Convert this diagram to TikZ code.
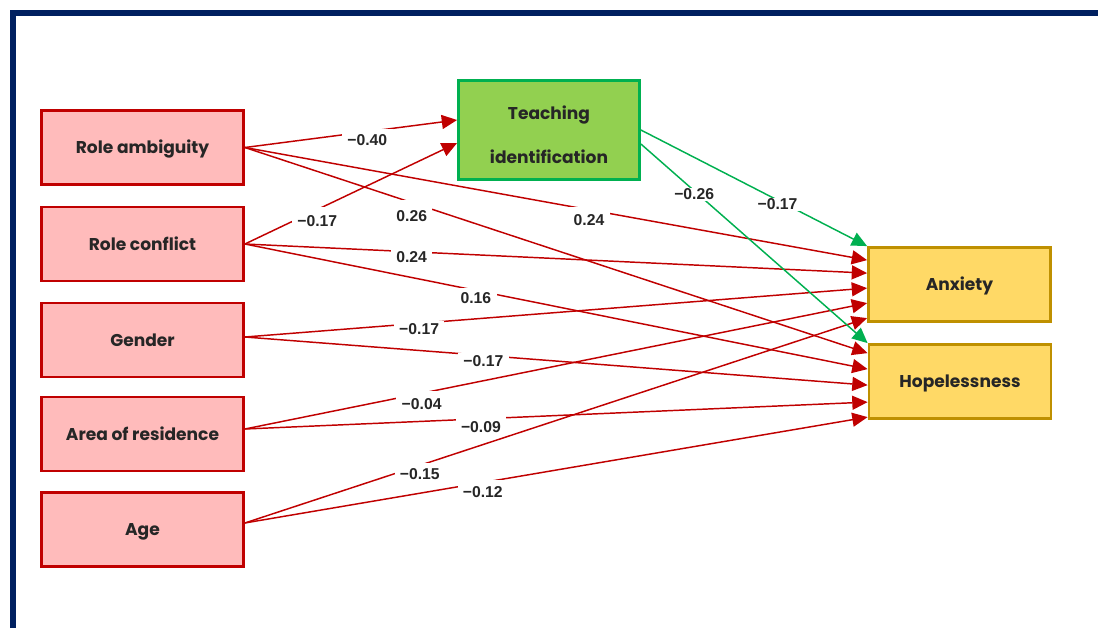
\documentclass[tikz,border=0pt]{standalone}
\usepackage{fontspec}
\setmainfont{Poppins}
\newfontfamily\labfont{Liberation Sans}
\usetikzlibrary{arrows.meta,calc}
\definecolor{navy}{HTML}{002060}
\definecolor{redb}{HTML}{C00000}
\definecolor{redf}{HTML}{FFBBBB}
\definecolor{grnb}{HTML}{00B050}
\definecolor{grnf}{HTML}{92D050}
\definecolor{yelb}{HTML}{BF9000}
\definecolor{yelf}{HTML}{FFD966}
\definecolor{txt}{HTML}{262626}
\tikzset{
  box/.style={draw, rectangle, line width=2.1pt, text=txt, align=center,
    font=\bfseries\fontsize{12.8}{15}\selectfont},
  onel/.style={text height=9pt, text depth=0pt},
  srcbox/.style={box, onel, draw=redb, fill=redf, minimum width=151.5pt, minimum height=55.5pt},
  midbox/.style={box, draw=grnb, fill=grnf, minimum width=135.75pt, minimum height=74.25pt},
  outbox/.style={box, onel, draw=yelb, fill=yelf, minimum width=136.5pt, minimum height=55.5pt},
  labbase/.style={fill=white, anchor=base, inner ysep=0.5pt, inner xsep=4pt, text depth=0.5pt,
    text=txt, font=\labfont\bfseries\fontsize{11.8}{13}\selectfont},
  lab/.code={\pgfmathsetmacro\labys{-(#1+5.7)*0.75}\pgfmathsetmacro\labth{(#1+7.6)*0.75}%
    \tikzset{labbase, yshift=\labys pt, text height=\labth pt}},
  redarr/.style={draw=redb, line width=1.1pt, -{Triangle[length=11.5pt, width=10.5pt]}, redb},
  grnarr/.style={draw=grnb, line width=1.1pt, -{Triangle[length=11.5pt, width=10.5pt]}, grnb},
}
\begin{document}
\begin{tikzpicture}[x=0.75pt, y=-0.75pt]
\useasboundingbox (0,0) rectangle (1098,628);
\draw[navy, line width=4.5pt, line join=miter] (12.5,628) -- (12.5,12.5) -- (1098,12.5);

\node[srcbox] (ra) at (142.5,147.5) {Role ambiguity};
\node[srcbox] (rc) at (142.5,244) {Role conflict};
\node[srcbox] (gen) at (142.5,340) {Gender};
\node[srcbox] (area) at (142.5,434) {Area of residence};
\node[srcbox] (age) at (142.5,529.5) {Age};
\node[midbox] (ti) at (549,130) {\raisebox{8.25pt}[0pt][0pt]{\begin{tabular}[t]{@{}c@{}}Teaching\\[18pt]identification\end{tabular}}};
\node[outbox] (anx) at (959.5,284.5) {Anxiety};
\node[outbox] (hop) at (960,381.5) {Hopelessness};

% to teaching identification
\draw[redarr] (ra.east) -- node[lab=7.7, pos=.577] {−0.40} ([yshift=7.5pt]ti.west);
\draw[redarr] (rc.east) -- node[lab=11, pos=.341] {−0.17} ([yshift=-9.75pt]ti.west);

% to anxiety
\draw[redarr] (ra.east) -- node[lab=10, pos=.553] {0.24} ([yshift=-10.5pt]anx.north west);
\draw[redarr] (rc.east) -- node[lab=5, pos=.268] {0.24} ([yshift=-20.25pt]anx.north west);
\draw[redarr] ([yshift=2.25pt]gen.east) -- node[lab=5, pos=.280] {−0.17} ([yshift=-31.5pt]anx.north west);
\draw[redarr] ([yshift=3.75pt]area.east) -- node[lab=11, pos=.284] {−0.04} ([yshift=-42.75pt]anx.north west);
\draw[redarr] ([yshift=4.9pt]age.east) -- node[lab=8.5, pos=.281] {−0.15} ([yshift=-54pt]anx.north west);

% to hopelessness
\draw[redarr] (ra.east) -- node[lab=13, pos=.268] {0.26} ([yshift=-7.5pt]hop.north west);
\draw[redarr] (rc.east) -- node[lab=7, pos=.371] {0.16} ([yshift=-19.5pt]hop.north west);
\draw[redarr] ([yshift=2.25pt]gen.east) -- node[lab=5.6, pos=.383] {−0.17} ([yshift=-31.5pt]hop.north west);
\draw[redarr] ([yshift=3.75pt]area.east) -- node[lab=8, pos=.379] {−0.09} ([yshift=-44.25pt]hop.north west);
\draw[redarr] ([yshift=4.9pt]age.east) -- node[lab=9.5, pos=.382] {−0.12} ([yshift=-55.5pt]hop.north west);

% from teaching identification
\draw[grnarr] (ti.east) -- node[lab=4, pos=.604] {−0.17} (anx.north west);
\draw[grnarr] ([yshift=-10.5pt]ti.east) -- node[lab=3, pos=.235] {−0.26} (hop.north west);
\end{tikzpicture}
\end{document}
